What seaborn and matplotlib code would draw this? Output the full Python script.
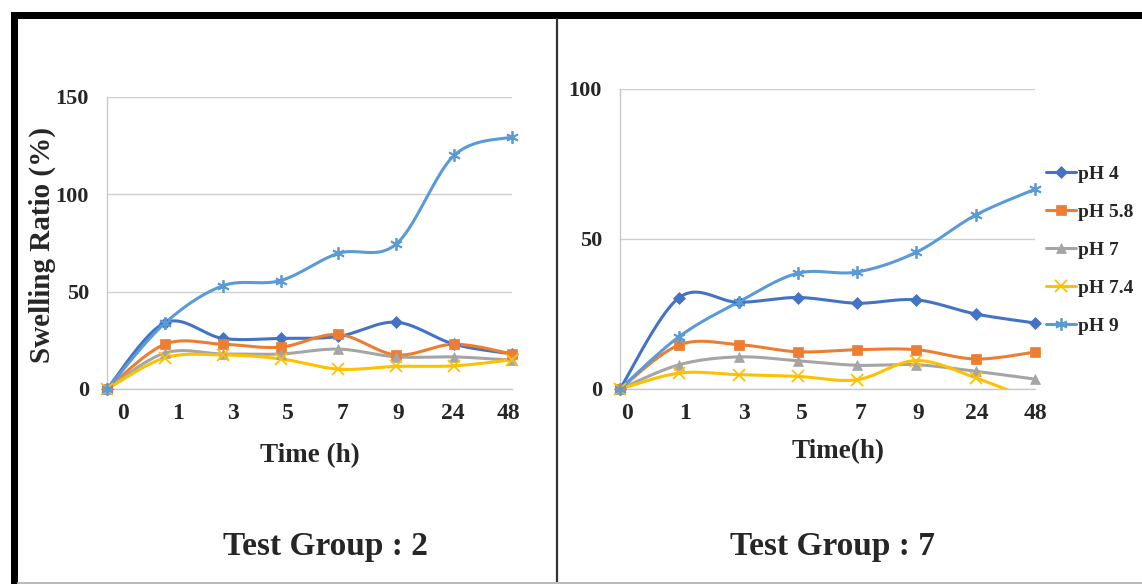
import matplotlib
matplotlib.use("Agg")
import matplotlib.pyplot as plt
import numpy as np
import pandas as pd
import seaborn as sns
from matplotlib.lines import Line2D
from matplotlib.patches import Rectangle

# time points (h) shown as categories
times = ["0", "1", "3", "5", "7", "9", "24", "48"]
series_names = ["pH 4", "pH 5.8", "pH 7", "pH 7.4", "pH 9"]

# Test Group 2 swelling ratio (%)
g2_ph4 = [0, 34, 26, 26, 27, 34.3, 23, 18]
g2_ph58 = [0, 23, 23, 21.5, 28, 17.5, 23, 18]
g2_ph7 = [0, 18.5, 18, 18, 20.5, 16.5, 16.5, 14.8]
g2_ph74 = [0, 16, 17.5, 15.5, 10.2, 11.6, 11.9, 15]
g2_ph9 = [0, 33.8, 53, 55.7, 69.7, 74.5, 120, 129.5]

# Test Group 7 swelling ratio (%)
g7_ph4 = [0, 30.5, 28.9, 30.5, 28.6, 29.7, 25, 22]
g7_ph58 = [0, 14.7, 14.8, 12.4, 13.1, 13.1, 10, 12.3]
g7_ph7 = [0, 8.1, 10.7, 9.4, 7.9, 8.1, 5.9, 3.3]
g7_ph74 = [0, 5.3, 4.8, 4.2, 3.1, 9.5, 3.7, -4]
g7_ph9 = [0, 17.5, 29, 38.6, 39, 45.6, 58, 66.6]

colors = ["#4472C4", "#ED7D31", "#A5A5A5", "#FFC000", "#5B9BD5"]
markers = ["D", "s", "^", "x", (6, 2, 0)]
msizes = [6, 7, 7, 8, 9]

sns.set_style("white")
plt.rcParams["font.family"] = ["Liberation Serif", "DejaVu Serif"]
plt.rcParams["font.weight"] = "bold"


def smooth(ys, n=25):
    # Excel style smoothed line (Bezier from neighbouring points)
    p = np.column_stack([np.arange(len(ys), dtype=float), np.asarray(ys, dtype=float)])
    xs_out, ys_out = [], []
    t = np.linspace(0, 1, n)[:, None]
    for i in range(len(p) - 1):
        p0 = p[i - 1] if i > 0 else p[i]
        p1, p2 = p[i], p[i + 1]
        p3 = p[i + 2] if i + 2 < len(p) else p[i + 1]
        b1 = p1 + (p2 - p0) / 6
        b2 = p2 - (p3 - p1) / 6
        seg = ((1 - t) ** 3) * p1 + 3 * ((1 - t) ** 2) * t * b1 + 3 * (1 - t) * t ** 2 * b2 + t ** 3 * p2
        xs_out.append(seg[:, 0])
        ys_out.append(seg[:, 1])
    return np.concatenate(xs_out), np.concatenate(ys_out)


def draw_panel(ax, data, ymax, ystep):
    x = np.arange(len(times))
    for vals, c, m, ms in zip(data, colors, markers, msizes):
        sx, sy = smooth(vals)
        sns.lineplot(x=sx, y=sy, color=c, lw=2.2, sort=False, estimator=None, ax=ax)
        vals = np.asarray(vals)
        ok = vals >= 0
        sns.lineplot(x=x[ok], y=vals[ok], color=c, marker=m, markersize=ms, linestyle="",
                     markeredgecolor=c, markeredgewidth=1.3 if m in ("x", (6, 2, 0)) else 0.5,
                     estimator=None, ax=ax, clip_on=False, zorder=4)
    ax.set_xlim(0, len(times) - 1)
    ax.set_ylim(0, ymax)
    ax.set_yticks(np.arange(0, ymax + 1, ystep))
    ax.yaxis.grid(True, color="#d0d0d0", lw=1)
    ax.set_axisbelow(True)
    for s in ["top", "right"]:
        ax.spines[s].set_visible(False)
    for s in ["left", "bottom"]:
        ax.spines[s].set_color("#c8c8c8")
        ax.spines[s].set_linewidth(1)
    ax.tick_params(axis="y", length=0, pad=13, labelsize=16)
    ax.tick_params(axis="x", length=0, pad=10, labelsize=17)
    ax.set_xlabel("")
    ax.set_ylabel("")


fig = plt.figure(figsize=(11.42, 5.84), dpi=100)
W, H = 1142, 584

ax1 = fig.add_axes([107 / W, 195 / H, 405 / W, 292 / H])
draw_panel(ax1, [g2_ph4, g2_ph58, g2_ph7, g2_ph74, g2_ph9], 150, 50)
ax1.set_xticks(np.linspace(0.28, 6.93, len(times)))
ax1.set_xticklabels(times)

ax2 = fig.add_axes([620 / W, 195 / H, 415 / W, 300 / H])
draw_panel(ax2, [g7_ph4, g7_ph58, g7_ph7, g7_ph74, g7_ph9], 100, 50)
ax2.set_xticks(np.linspace(0.12, 7.0, len(times)))
ax2.set_xticklabels(times)

# axis labels and panel captions
fig.text(42 / W, 1 - 245 / H, "Swelling Ratio (%)", rotation=90, ha="center", va="center",
         fontsize=21, fontweight="bold")
fig.text(310 / W, 1 - 456 / H, "Time (h)", ha="center", va="center", fontsize=19.5, fontweight="bold")
fig.text(838 / W, 1 - 452 / H, "Time(h)", ha="center", va="center", fontsize=19.5, fontweight="bold")
fig.text(325 / W, 1 - 546 / H, "Test Group : 2", ha="center", va="center", fontsize=24, fontweight="bold")
fig.text(832 / W, 1 - 546 / H, "Test Group : 7", ha="center", va="center", fontsize=24, fontweight="bold")

handles = [Line2D([], [], color=c, marker=m, markersize=ms, lw=2.2, markeredgecolor=c,
                  markeredgewidth=1.3 if m in ("x", (6, 2, 0)) else 0.5)
           for c, m, ms in zip(colors, markers, msizes)]
fig.legend(handles, series_names, loc="center left", bbox_to_anchor=(1046 / W, 1 - 250 / H),
           frameon=False, handlelength=1.55, handletextpad=0.08, labelspacing=1.05,
           borderpad=0, borderaxespad=0, prop={"weight": "bold", "size": 14})

# frame around the figure and divider
fig.add_artist(Rectangle((11 / W, 1 - 19 / H), 1 - 11 / W, 7 / H, transform=fig.transFigure,
                         color="black", lw=0))
fig.add_artist(Rectangle((11 / W, 0), 7 / W, 1 - 12 / H, transform=fig.transFigure,
                         color="black", lw=0))
fig.add_artist(Line2D([556.5 / W, 556.5 / W], [0, 1 - 19 / H], transform=fig.transFigure,
                      color="#333333", lw=1.6))
fig.add_artist(Line2D([18 / W, 1], [1.5 / H, 1.5 / H], transform=fig.transFigure,
                      color="#bbbbbb", lw=1.5))

fig.savefig("out.png", dpi=100)
